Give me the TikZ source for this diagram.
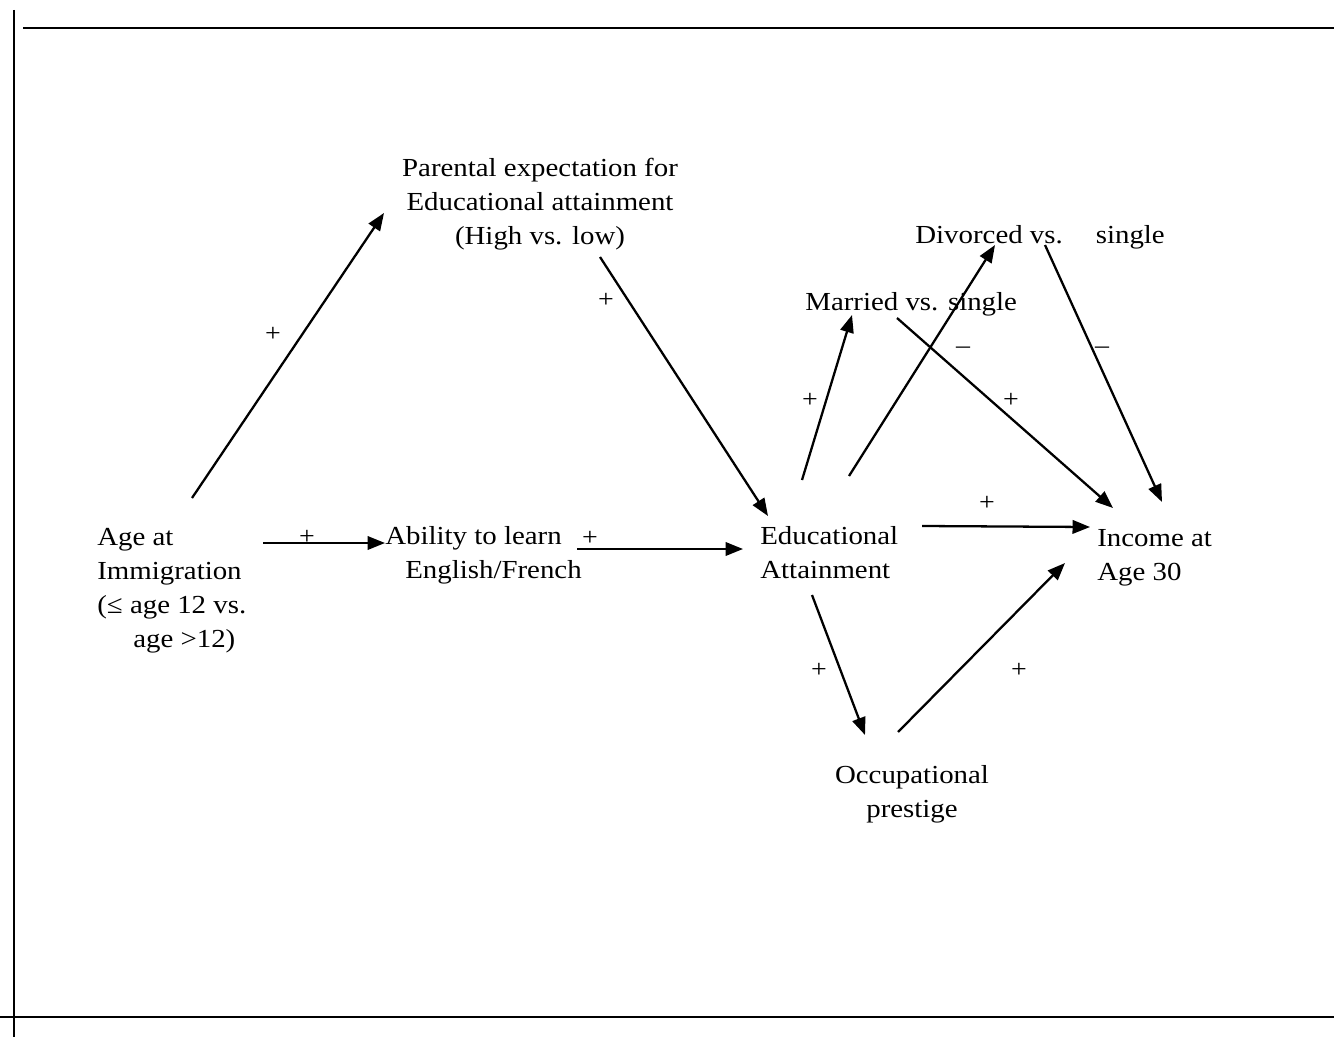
\documentclass[tikz,border=0pt]{standalone}
\usepackage{fontspec}
\setmainfont[FakeStretch=1.11]{Liberation Serif}
\usetikzlibrary{arrows.meta,calc}

\tikzset{
	txt/.style={inner sep=0, anchor=base west, align=left, font=\fontsize{14.8}{19.35}\selectfont},
	ctxt/.style={txt, anchor=base, align=center},
	sgn/.style={inner sep=0, font=\fontsize{14.3}{19.35}\selectfont},
	arr/.style={line width=1.3pt, -{Triangle[length=0.35cm, width=0.27cm]}},
}

\begin{document}
\begin{tikzpicture}[x=0.02cm, y=-0.02cm]
			%%%%% START %%%%%
			\useasboundingbox (0, 0) rectangle (1334, 1037);
			
			\draw[line width=1.1pt] (14, 10) -- (14, 1037);
			\draw[line width=1.7pt] (23, 28) -- (1334, 28);
			\draw[line width=0.9pt] (0, 1017) -- (1334, 1017);
			
			% nodes sit on the baseline of their last line
			\node[txt] (age) at (97, 647) {Age at\\Immigration\\(≤ age 12 vs.\\\hspace*{0.72cm}age >12)};
			\node[ctxt] (par) at (540, 244) {Parental expectation for\\Educational attainment\\(High vs. low)};
			\node[txt] (abil) at (385, 578) {Ability to learn\\\hspace*{0.4cm}English/French};
			\node[txt] (edu) at (760, 578) {Educational\\Attainment};
			\node[txt] (mar) at (805, 310) {Married vs. single};
			\node[txt] (div) at (915, 243) {Divorced vs.\hspace{0.66cm}single};
			\node[txt] (inc) at (1097, 580) {Income at\\Age 30};
			\node[ctxt] (occ) at (912, 817) {Occupational\\prestige};
			
			\draw[arr] ($(age.base west)+(95, -149)$) -- ($(par.base)+(-156, -31)$);
			\draw[arr] ($(age.base west)+(166, -104)$) -- ($(abil.base west)+(0, -35)$);
			\draw[arr] ($(abil.base west)+(192, -29)$) -- ($(edu.base west)+(-17, -29)$);
			\draw[arr] ($(par.base)+(60, 13)$) -- ($(edu.base west)+(8, -62)$);
			\draw[arr] ($(edu.base west)+(42, -98)$) -- ($(mar.base west)+(47, 5)$);
			\draw[arr] ($(edu.base west)+(89, -102)$) -- ($(div.base west)+(80, 2)$);
			\draw[arr] ($(mar.base west)+(92, 8)$) -- ($(inc.base west)+(16, -72)$);
			\draw[arr] ($(div.base west)+(130, 2)$) -- ($(inc.base west)+(65, -78)$);
			\draw[arr] ($(edu.base west)+(162, -52)$) -- ($(inc.base west)+(-7, -53)$);
			\draw[arr] ($(edu.base west)+(52, 17)$) -- ($(occ.base)+(-47, -82)$);
			\draw[arr] ($(occ.base)+(-14, -85)$) -- ($(inc.base west)+(-32, -17)$);
			
			\node[sgn] (s1) at (273, 334) {+};
			\node[sgn] (s2) at (307, 537) {+};
			\node[sgn] (s3) at (590, 538) {+};
			\node[sgn] (s4) at (606, 300) {+};
			\node[sgn] (s5) at (810, 400) {+};
			\node[sgn] (s6) at (1011, 400) {+};
			\node[sgn] (s7) at (987, 503) {+};
			\node[sgn] (s8) at (819, 670) {+};
			\node[sgn] (s9) at (1019, 670) {+};
			\node[sgn] (m1) at (963, 350) {–};
			\node[sgn] (m2) at (1102, 350) {–};
			%%%%% END %%%%%
\end{tikzpicture}
\end{document}
